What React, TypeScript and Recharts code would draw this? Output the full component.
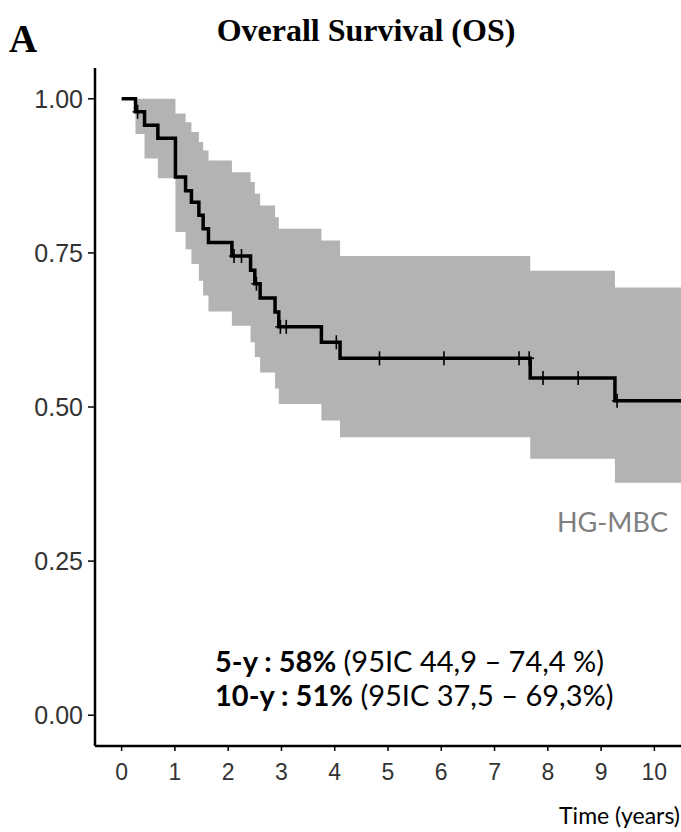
import React from 'react';
import { ComposedChart, Area, Line, Scatter, XAxis, YAxis } from 'recharts';

// Kaplan-Meier step points (value holds until the next time)
const times = [0, 0.26, 0.43, 0.68, 1.01, 1.2, 1.31, 1.45, 1.53, 1.63, 2.07, 2.42, 2.5, 2.6, 2.88, 2.95, 3.75, 4.1, 7.67, 9.26, 10.5];
const survival = [1, 0.979, 0.957, 0.936, 0.873, 0.851, 0.832, 0.811, 0.789, 0.767, 0.745, 0.722, 0.7, 0.677, 0.654, 0.63, 0.605, 0.579, 0.547, 0.51, 0.51];
const lowerCI = [1, 0.943, 0.903, 0.871, 0.784, 0.756, 0.732, 0.705, 0.681, 0.655, 0.632, 0.605, 0.581, 0.556, 0.53, 0.505, 0.478, 0.451, 0.416, 0.377, 0.377];
const upperCI = [1, 1, 1, 1, 0.976, 0.962, 0.946, 0.93, 0.916, 0.9, 0.881, 0.865, 0.846, 0.827, 0.808, 0.789, 0.77, 0.745, 0.721, 0.694, 0.694];

// censored observations
const censorTimes = [0.3, 2.11, 2.25, 2.53, 2.98, 3.09, 4.03, 4.84, 6.05, 7.46, 7.65, 7.91, 8.57, 9.3];

const xTicks = [0, 1, 2, 3, 4, 5, 6, 7, 8, 9, 10];
const yTicks = [0, 0.25, 0.5, 0.75, 1];

const kmData = times.map((t, i) => ({ t, surv: survival[i], lower: lowerCI[i], upper: upperCI[i] }));

const survAt = (t: number) => {
    let v = survival[0];
    times.forEach((ti, i) => {
        if (ti <= t) v = survival[i];
    });
    return v;
};
const censorData = censorTimes.map((t) => ({ t, s: survAt(t) }));

const CensorMark = (props: any) => {
    const { cx, cy } = props;
    if (cx == null || cy == null) return null;
    return (
        <g stroke="#000" strokeWidth={1.6}>
            <line x1={cx} y1={cy - 7} x2={cx} y2={cy + 7} />
            <line x1={cx - 5} y1={cy} x2={cx + 5} y2={cy} />
        </g>
    );
};

const sans = '"Liberation Sans", Arial, sans-serif';

const App = () => {
    return (
        <div style={{ position: 'absolute', left: 0, top: 0, width: 681, height: 832, background: '#fff' }}>
            <div style={{ position: 'absolute', left: 9, top: 16, fontFamily: '"Liberation Serif", serif', fontWeight: 'bold', fontSize: 39, lineHeight: '46px' }}>
                A
            </div>
            <div style={{ position: 'absolute', left: 0, width: 732, top: 11, textAlign: 'center', fontFamily: '"Liberation Serif", serif', fontWeight: 'bold', fontSize: 32, lineHeight: '38px' }}>
                Overall Survival (OS)
            </div>
            <ComposedChart
                width={681}
                height={832}
                data={kmData}
                margin={{ top: 68, right: 0, left: 0, bottom: 0 }}
            >
                <XAxis
                    dataKey="t"
                    type="number"
                    domain={[-0.5, 10.5]}
                    ticks={xTicks}
                    allowDataOverflow
                    height={86}
                    tickSize={5}
                    tickMargin={13}
                    tick={{ fill: '#333', fontSize: 23, fontFamily: sans }}
                    axisLine={{ stroke: '#000', strokeWidth: 2.5 }}
                    tickLine={{ stroke: '#000', strokeWidth: 1.5 }}
                />
                <YAxis
                    type="number"
                    domain={[-0.05, 1.05]}
                    ticks={yTicks}
                    allowDataOverflow
                    width={95}
                    tickSize={7}
                    tickMargin={5}
                    tick={{ fill: '#333', fontSize: 25, fontFamily: sans }}
                    tickFormatter={(v: number) => v.toFixed(2)}
                    axisLine={{ stroke: '#000', strokeWidth: 2.5 }}
                    tickLine={{ stroke: '#000', strokeWidth: 1.5 }}
                />
                <Area
                    type="stepAfter"
                    dataKey={(d: any) => [d.lower, d.upper]}
                    fill="#b3b3b3"
                    fillOpacity={1}
                    stroke="none"
                    isAnimationActive={false}
                />
                <Line
                    type="stepAfter"
                    dataKey="surv"
                    stroke="#000"
                    strokeWidth={3.5}
                    dot={false}
                    isAnimationActive={false}
                />
                <Scatter data={censorData} dataKey="s" shape={<CensorMark />} isAnimationActive={false} />
            </ComposedChart>
            <div style={{ position: 'absolute', left: 557, top: 506, color: '#7f7f7f', fontFamily: 'Lato, sans-serif', fontSize: 27, lineHeight: '32px' }}>
                HG-MBC
            </div>
            <div style={{ position: 'absolute', left: 215, top: 644, fontFamily: 'Lato, sans-serif', fontSize: 29, lineHeight: '34px', color: '#000', whiteSpace: 'nowrap' }}>
                <div><b>5-y : 58%</b> (95IC 44,9 – 74,4 %)</div>
                <div><b>10-y : 51%</b> (95IC 37,5 – 69,3%)</div>
            </div>
            <div style={{ position: 'absolute', right: 1, top: 801, fontFamily: 'Lato, sans-serif', fontSize: 23, lineHeight: '28px', color: '#000' }}>
                Time (years)
            </div>
        </div>
    );
};

export default App;
